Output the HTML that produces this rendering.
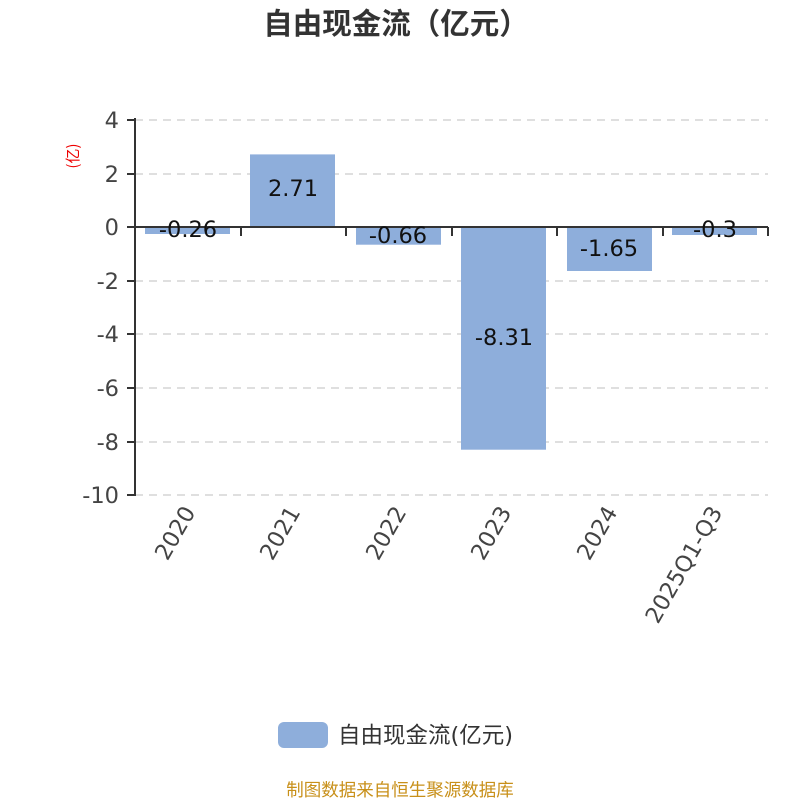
<!DOCTYPE html>
<html><head><meta charset="utf-8"><style>body{margin:0;background:#fff}</style></head><body>
<svg width="800" height="800" xmlns="http://www.w3.org/2000/svg" font-family="DejaVu Sans, Noto Sans CJK SC, sans-serif">
<rect width="800" height="800" fill="#fff"/>
<text x="396" y="34" text-anchor="middle" font-size="29.5" font-weight="bold" fill="#333" font-family="Noto Sans CJK SC, sans-serif">自由现金流（亿元）</text>
<text transform="translate(78,156) rotate(-90)" text-anchor="middle" font-size="15" fill="#e00" font-family="Noto Sans CJK SC, sans-serif">(亿)</text>
<g stroke="#ccc" stroke-dasharray="8,6" stroke-width="1.3">
<line x1="135" x2="768" y1="120" y2="120"/><line x1="135" x2="768" y1="174" y2="174"/>
<line x1="135" x2="768" y1="281" y2="281"/><line x1="135" x2="768" y1="334" y2="334"/>
<line x1="135" x2="768" y1="388" y2="388"/><line x1="135" x2="768" y1="442" y2="442"/>
<line x1="135" x2="768" y1="495" y2="495"/>
</g>
<g fill="#8eaedb">
<rect x="145" y="227" width="85" height="7"/>
<rect x="250" y="154.4" width="85" height="72.6"/>
<rect x="356" y="227" width="85" height="17.7"/>
<rect x="461" y="227" width="85" height="222.7"/>
<rect x="567" y="227" width="85" height="44"/>
<rect x="672" y="227" width="85" height="8"/>
</g>
<g stroke="#333" stroke-width="2">
<line x1="135" y1="118" x2="135" y2="496"/>
<line x1="134" y1="227" x2="768" y2="227"/>
<line x1="127" y1="120" x2="135" y2="120"/><line x1="127" y1="174" x2="135" y2="174"/>
<line x1="127" y1="227" x2="135" y2="227"/><line x1="127" y1="281" x2="135" y2="281"/>
<line x1="127" y1="334" x2="135" y2="334"/><line x1="127" y1="388" x2="135" y2="388"/>
<line x1="127" y1="442" x2="135" y2="442"/><line x1="127" y1="495" x2="135" y2="495"/>
<line x1="241" y1="227" x2="241" y2="236"/><line x1="346" y1="227" x2="346" y2="236"/>
<line x1="452" y1="227" x2="452" y2="236"/><line x1="557" y1="227" x2="557" y2="236"/>
<line x1="663" y1="227" x2="663" y2="236"/><line x1="768" y1="227" x2="768" y2="236"/>
</g>
<g font-size="22.5" fill="#444" text-anchor="end">
<text x="119" y="128">4</text><text x="119" y="182">2</text><text x="119" y="235">0</text>
<text x="119" y="289">-2</text><text x="119" y="342">-4</text><text x="119" y="396">-6</text>
<text x="119" y="450">-8</text><text x="119" y="503">-10</text>
</g>
<g font-size="22.5" fill="#111" text-anchor="middle">
<text x="188" y="237">-0.26</text><text x="293" y="196">2.71</text>
<text x="398" y="243">-0.66</text><text x="504" y="345">-8.31</text>
<text x="609" y="256">-1.65</text><text x="715" y="237">-0.3</text>
</g>
<g font-size="22.5" fill="#444" text-anchor="end">
<text transform="translate(196,512) rotate(-60)">2020</text>
<text transform="translate(301,512) rotate(-60)">2021</text>
<text transform="translate(407,512) rotate(-60)">2022</text>
<text transform="translate(512,512) rotate(-60)">2023</text>
<text transform="translate(618,512) rotate(-60)">2024</text>
<text transform="translate(723,512) rotate(-60)">2025Q1-Q3</text>
</g>
<rect x="278" y="722" width="50" height="26" rx="6" fill="#8eaedb"/>
<text x="338" y="743" font-size="22.5" fill="#333" font-family="DejaVu Sans, Noto Sans CJK SC, sans-serif">自由现金流(亿元)</text>
<text x="400" y="796" text-anchor="middle" font-size="17.5" fill="#c8901a" font-family="Noto Sans CJK SC, sans-serif">制图数据来自恒生聚源数据库</text>
</svg>
</body></html>
